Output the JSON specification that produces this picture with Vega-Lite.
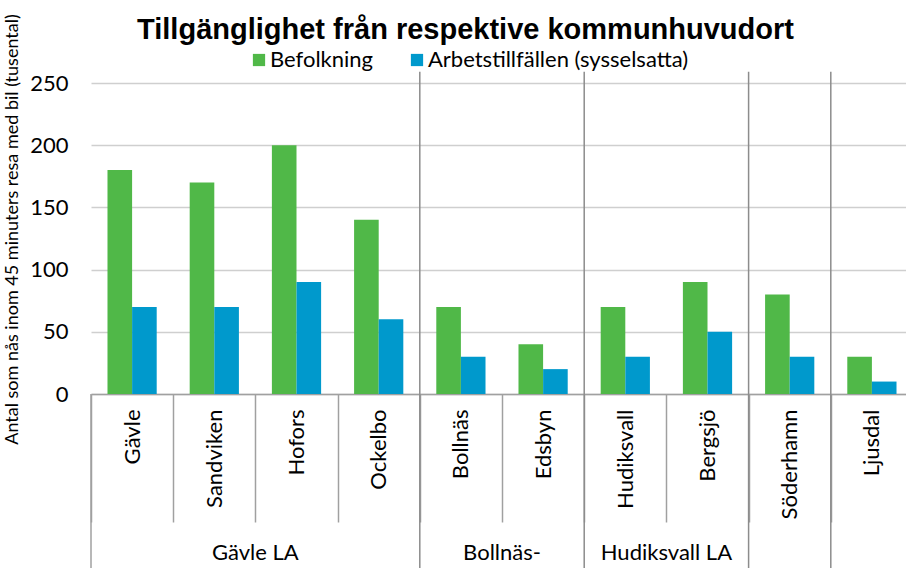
{
  "$schema": "https://vega.github.io/schema/vega-lite/v6.json",
  "width": 815,
  "height": 311,
  "autosize": "none",
  "padding": {"left": 91, "top": 83, "right": 0, "bottom": 174},
  "background": "white",
  "title": {
    "text": "Tillgänglighet från respektive kommunhuvudort",
    "font": "Liberation Sans",
    "fontSize": 29,
    "fontWeight": "bold",
    "color": "#000000",
    "anchor": "middle",
    "baseline": "alphabetic",
    "dx": -33,
    "offset": -54
  },
  "config": {"view": {"stroke": null}, "font": "Lato"},
  "datasets": {
    "bars": [
      {"stad": "Gävle", "serie": "Befolkning", "antal": 180},
      {"stad": "Gävle", "serie": "Arbetstillfällen (sysselsatta)", "antal": 70},
      {"stad": "Sandviken", "serie": "Befolkning", "antal": 170},
      {"stad": "Sandviken", "serie": "Arbetstillfällen (sysselsatta)", "antal": 70},
      {"stad": "Hofors", "serie": "Befolkning", "antal": 200},
      {"stad": "Hofors", "serie": "Arbetstillfällen (sysselsatta)", "antal": 90},
      {"stad": "Ockelbo", "serie": "Befolkning", "antal": 140},
      {"stad": "Ockelbo", "serie": "Arbetstillfällen (sysselsatta)", "antal": 60},
      {"stad": "Bollnäs", "serie": "Befolkning", "antal": 70},
      {"stad": "Bollnäs", "serie": "Arbetstillfällen (sysselsatta)", "antal": 30},
      {"stad": "Edsbyn", "serie": "Befolkning", "antal": 40},
      {"stad": "Edsbyn", "serie": "Arbetstillfällen (sysselsatta)", "antal": 20},
      {"stad": "Hudiksvall", "serie": "Befolkning", "antal": 70},
      {"stad": "Hudiksvall", "serie": "Arbetstillfällen (sysselsatta)", "antal": 30},
      {"stad": "Bergsjö", "serie": "Befolkning", "antal": 90},
      {"stad": "Bergsjö", "serie": "Arbetstillfällen (sysselsatta)", "antal": 50},
      {"stad": "Söderhamn", "serie": "Befolkning", "antal": 80},
      {"stad": "Söderhamn", "serie": "Arbetstillfällen (sysselsatta)", "antal": 30},
      {"stad": "Ljusdal", "serie": "Befolkning", "antal": 30},
      {"stad": "Ljusdal", "serie": "Arbetstillfällen (sysselsatta)", "antal": 10}
    ],
    "grans": [
      {"stad": "Bollnäs"},
      {"stad": "Hudiksvall"},
      {"stad": "Söderhamn"},
      {"stad": "Ljusdal"}
    ],
    "vanster": [
      {"stad": "Gävle"}
    ],
    "grupper": [
      {"stad": "Hofors", "grupp": "Gävle LA"},
      {"stad": "Edsbyn", "grupp": "Bollnäs-"},
      {"stad": "Bergsjö", "grupp": "Hudiksvall LA"}
    ]
  },
  "layer": [
    {
      "data": {"name": "bars"},
      "mark": {"type": "bar"},
      "encoding": {
        "x": {
          "field": "stad",
          "type": "nominal",
          "sort": null,
          "scale": {
            "domain": ["Gävle", "Sandviken", "Hofors", "Ockelbo", "Bollnäs", "Edsbyn", "Hudiksvall", "Bergsjö", "Söderhamn", "Ljusdal"],
            "range": [0, 822],
            "paddingInner": 0,
            "paddingOuter": 0
          },
          "axis": {
            "title": null,
            "labelAngle": 270,
            "labelFont": "Lato",
            "labelFontSize": 22,
            "labelColor": "#000000",
            "labelPadding": -113,
            "labelLimit": 0,
            "tickBand": "extent",
            "tickSize": 128,
            "tickColor": "#a0a0a0",
            "tickWidth": 1.5,
            "domainColor": "#a0a0a0",
            "domainWidth": 1.5
          }
        },
        "xOffset": {
          "field": "serie",
          "type": "nominal",
          "sort": null,
          "scale": {
            "domain": ["Befolkning", "Arbetstillfällen (sysselsatta)"],
            "paddingInner": 0,
            "paddingOuter": 0.67
          }
        },
        "y": {
          "field": "antal",
          "type": "quantitative",
          "scale": {"domain": [0, 250]},
          "axis": {
            "title": "Antal som nås inom 45 minuters resa med bil (tusental)",
            "titleFont": "Lato",
            "titleFontSize": 18,
            "titleFontWeight": "normal",
            "titleColor": "#000000",
            "titleAngle": 270,
            "titleX": -79,
            "titleY": 146,
            "titleAlign": "center",
            "titleBaseline": "middle",
            "values": [0, 50, 100, 150, 200, 250],
            "domain": false,
            "ticks": false,
            "labelPadding": 23,
            "labelFont": "Lato",
            "labelFontSize": 22,
            "labelColor": "#000000",
            "gridColor": "#cfcfcf",
            "gridWidth": 1.5
          }
        },
        "color": {
          "field": "serie",
          "type": "nominal",
          "scale": {
            "domain": ["Befolkning", "Arbetstillfällen (sysselsatta)"],
            "range": ["#50B848", "#0099CC"]
          },
          "legend": {
            "title": null,
            "orient": "none",
            "legendX": 157,
            "legendY": -34,
            "direction": "horizontal",
            "symbolType": "square",
            "symbolSize": 150,
            "symbolStrokeWidth": 0,
            "labelFont": "Lato",
            "labelFontSize": 22,
            "labelColor": "#000000",
            "labelOffset": 0,
            "labelLimit": 0,
            "columnPadding": 32
          }
        }
      }
    },
    {
      "data": {"name": "grans"},
      "mark": {"type": "rule", "color": "#8c8c8c", "strokeWidth": 1.5},
      "encoding": {
        "x": {"field": "stad", "type": "nominal", "bandPosition": 0},
        "y": {"datum": 259, "type": "quantitative", "scale": {"domain": [0, 250]}},
        "y2": {"datum": -140}
      }
    },
    {
      "data": {"name": "vanster"},
      "mark": {"type": "rule", "color": "#a0a0a0", "strokeWidth": 1.5},
      "encoding": {
        "x": {"field": "stad", "type": "nominal", "bandPosition": 0},
        "y": {"datum": 0, "type": "quantitative", "scale": {"domain": [0, 250]}},
        "y2": {"datum": -140}
      }
    },
    {
      "data": {"name": "grupper"},
      "mark": {"type": "text", "font": "Lato", "fontSize": 22, "color": "#000000", "baseline": "middle", "align": "center"},
      "encoding": {
        "x": {"field": "stad", "type": "nominal", "bandPosition": 0},
        "y": {"datum": -128, "type": "quantitative", "scale": {"domain": [0, 250]}},
        "text": {"field": "grupp"}
      }
    }
  ]
}
